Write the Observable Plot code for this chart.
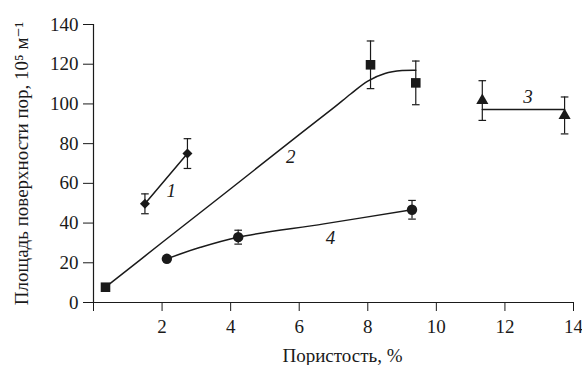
<!DOCTYPE html>
<html><head><meta charset="utf-8">
<script src="https://cdn.jsdelivr.net/npm/d3@7"></script>
<script src="https://cdn.jsdelivr.net/npm/@observablehq/plot@0.6"></script>
<style>
body{margin:0;background:#fff}
</style>
</head><body><div id="chart"></div>
<script>
const xTicks = [0, 2, 4, 6, 8, 10, 12, 14];
const yTicks = [0, 20, 40, 60, 80, 100, 120, 140];
const xLabel = "Пористость, %";
const yLabel = "Площадь поверхности пор, 10⁵ м⁻¹";

// series 1 (diamonds)
const s1X = [1.5, 2.74];
const s1Y = [49.7, 75];
const s1Err = [5, 7.5];
// series 2 (squares)
const s2X = [0.35, 8.08, 9.4];
const s2Y = [7.7, 119.7, 110.6];
const s2Err = [0, 12, 11];
const s2CurveX = [0.35, 2, 4, 6, 7, 7.5, 8, 8.5, 9, 9.4];
const s2CurveY = [7.7, 30.2, 57.3, 84.5, 98, 105, 111.5, 115.3, 116.8, 117];
// series 3 (triangles)
const s3X = [11.34, 13.74];
const s3Y = [101.7, 94.2];
const s3Err = [10, 9.3];
const s3LineX = [11.34, 13.74];
const s3LineY = [97.2, 97.2];
// series 4 (circles)
const s4X = [2.14, 4.22, 9.29];
const s4Y = [22, 32.9, 46.7];
const s4Err = [0, 3.5, 4.7];
const s4CurveX = [2.14, 3.12, 4.22, 6.72, 9.29];
const s4CurveY = [22, 27.8, 32.9, 39.6, 46.7];
// curve labels
const labX = [2.27, 5.75, 12.67, 6.91];
const labY = [56, 73.5, 103.4, 32.6];
const labText = ["1", "2", "3", "4"];

const ink = "#1a1a1a";
const serif = "'Liberation Serif', 'DejaVu Serif', 'Times New Roman', serif";
const pts = (xs, ys, es) => xs.map((x, i) => ({x, y: ys[i], e: es[i]}));
const crv = (xs, ys) => xs.map((x, i) => ({x, y: ys[i]}));
const p1 = pts(s1X, s1Y, s1Err), p2 = pts(s2X, s2Y, s2Err), p3 = pts(s3X, s3Y, s3Err), p4 = pts(s4X, s4Y, s4Err);
const allErr = [...p1, ...p2, ...p3, ...p4].filter(d => d.e > 0);
const caps = allErr.flatMap(d => [{x: d.x, y: d.y - d.e}, {x: d.x, y: d.y + d.e}]);
const capSymbol = {draw(ctx) { ctx.moveTo(-3.8, 0); ctx.lineTo(3.8, 0); }};
const labels = labX.map((x, i) => ({x, y: labY[i], t: labText[i]}));

const chart = Plot.plot({
  width: 582, height: 365,
  marginLeft: 93, marginRight: 9, marginTop: 24, marginBottom: 63,
  style: {fontFamily: serif, fontSize: "19px", background: "#fff", color: ink},
  x: {domain: [0, 14]},
  y: {domain: [0, 140]},
  marks: [
    Plot.axisY({ticks: yTicks, tickSize: 10, tickPadding: 5, label: yLabel, labelAnchor: "center", labelArrow: "none", labelOffset: 79, fontSize: 19, fontFamily: serif, stroke: ink}),
    Plot.axisX({ticks: xTicks, tickFormat: d => d === 0 ? "" : d, tickSize: 9, tickPadding: 8, label: null, fontSize: 19, fontFamily: serif, stroke: ink}),
    Plot.text([xLabel], {frameAnchor: "bottom", dy: 59, dx: 9, lineAnchor: "bottom", fontSize: 19, fontFamily: serif, fill: ink}),
    Plot.ruleX([0], {stroke: ink, strokeWidth: 1.2}),
    Plot.ruleY([0], {stroke: ink, strokeWidth: 1.2}),
    Plot.line(crv(s1X, s1Y), {x: "x", y: "y", stroke: ink, strokeWidth: 1.5}),
    Plot.line(crv(s2CurveX, s2CurveY), {x: "x", y: "y", stroke: ink, strokeWidth: 1.5, curve: "catmull-rom"}),
    Plot.line(crv(s3LineX, s3LineY), {x: "x", y: "y", stroke: ink, strokeWidth: 1.5}),
    Plot.line(crv(s4CurveX, s4CurveY), {x: "x", y: "y", stroke: ink, strokeWidth: 1.5, curve: "catmull-rom"}),
    Plot.ruleX(allErr, {x: "x", y1: d => d.y - d.e, y2: d => d.y + d.e, stroke: ink, strokeWidth: 1.2}),
    Plot.dot(caps, {x: "x", y: "y", symbol: capSymbol, stroke: ink, strokeWidth: 1.2, fill: "none"}),
    Plot.dot(p1, {x: "x", y: "y", symbol: "diamond2", r: 4.5, fill: ink, stroke: "none"}),
    Plot.dot(p2, {x: "x", y: "y", symbol: "square", r: 5.4, fill: ink, stroke: "none"}),
    Plot.dot(p3, {x: "x", y: "y", symbol: "triangle", r: 4.5, fill: ink, stroke: "none"}),
    Plot.dot(p4, {x: "x", y: "y", symbol: "circle", r: 5.2, fill: ink, stroke: "none"}),
    Plot.text(labels, {x: "x", y: "y", text: "t", fontStyle: "italic", fontSize: 19, fontFamily: serif, fill: ink})
  ]
});
document.getElementById("chart").append(chart);
</script>
</body></html>
